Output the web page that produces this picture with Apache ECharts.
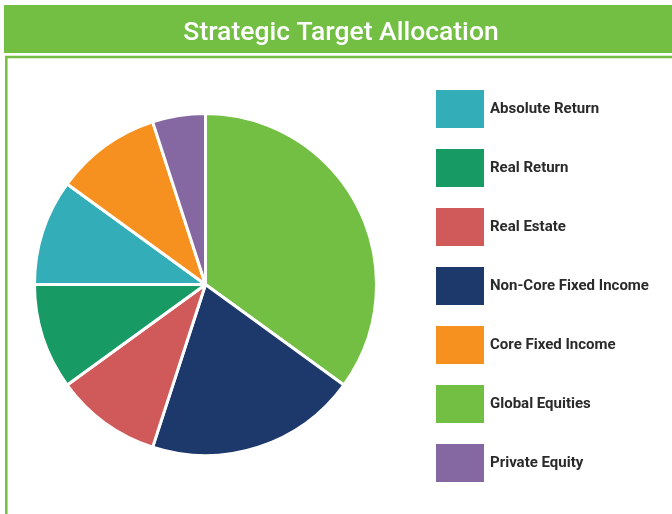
<!DOCTYPE html>
<html>
<head>
<meta charset="utf-8">
<script src="https://cdn.jsdelivr.net/npm/echarts@6/dist/echarts.min.js"></script>
<style>
html,body{margin:0;padding:0;background:#fff;}
#main{width:672px;height:514px;}
</style>
</head>
<body>
<div id="main"></div>
<script>
var titleText = 'Strategic Target Allocation';
// pie order (clockwise from 12 o'clock)
var categories = ['Global Equities','Non-Core Fixed Income','Real Estate','Real Return','Absolute Return','Core Fixed Income','Private Equity'];
var values = [35, 20, 10, 10, 10, 10, 5];
var colors = ['#72bf44','#1d386b','#d05a5a','#179a63','#33adb8','#f6901e','#8567a1'];
// legend order as in the reference
var legendOrder = ['Absolute Return','Real Return','Real Estate','Non-Core Fixed Income','Core Fixed Income','Global Equities','Private Equity'];

var chart = echarts.init(document.getElementById('main'), null, {renderer:'canvas'});
var data = categories.map(function(c,i){ return {name:c, value:values[i], itemStyle:{color:colors[i]}}; });

chart.setOption({
  animation:false,
  backgroundColor:'#ffffff',
  title:{
    text:titleText,
    left:341, top:20, textAlign:'center', padding:0,
    textStyle:{color:'#ffffff', fontFamily:'Roboto', fontWeight:500, fontSize:26.5}
  },
  graphic:[
    {type:'rect', z:-10, shape:{x:4, y:5, width:680, height:48}, style:{fill:'#72bf44'}},
    {type:'rect', z:-10, shape:{x:6.3, y:57, width:700, height:500}, style:{fill:'none', stroke:'#72bf44', lineWidth:2.5}}
  ],
  legend:{
    data:legendOrder,
    orient:'vertical',
    left:434, top:88, padding:0,
    itemWidth:50, itemHeight:40, itemGap:17,
    icon:'rect',
    selectedMode:false,
    textStyle:{color:'#2a2a2a', fontFamily:'Roboto', fontWeight:'bold', fontSize:15, padding:[0,0,0,0]}
  },
  series:[{
    type:'pie',
    center:[205.5,284.5],
    radius:[0,171],
    startAngle:90,
    clockwise:true,
    label:{show:false},
    labelLine:{show:false},
    emphasis:{disabled:true},
    itemStyle:{borderColor:'#ffffff', borderWidth:3},
    data:data
  }]
});
</script>
</body>
</html>
